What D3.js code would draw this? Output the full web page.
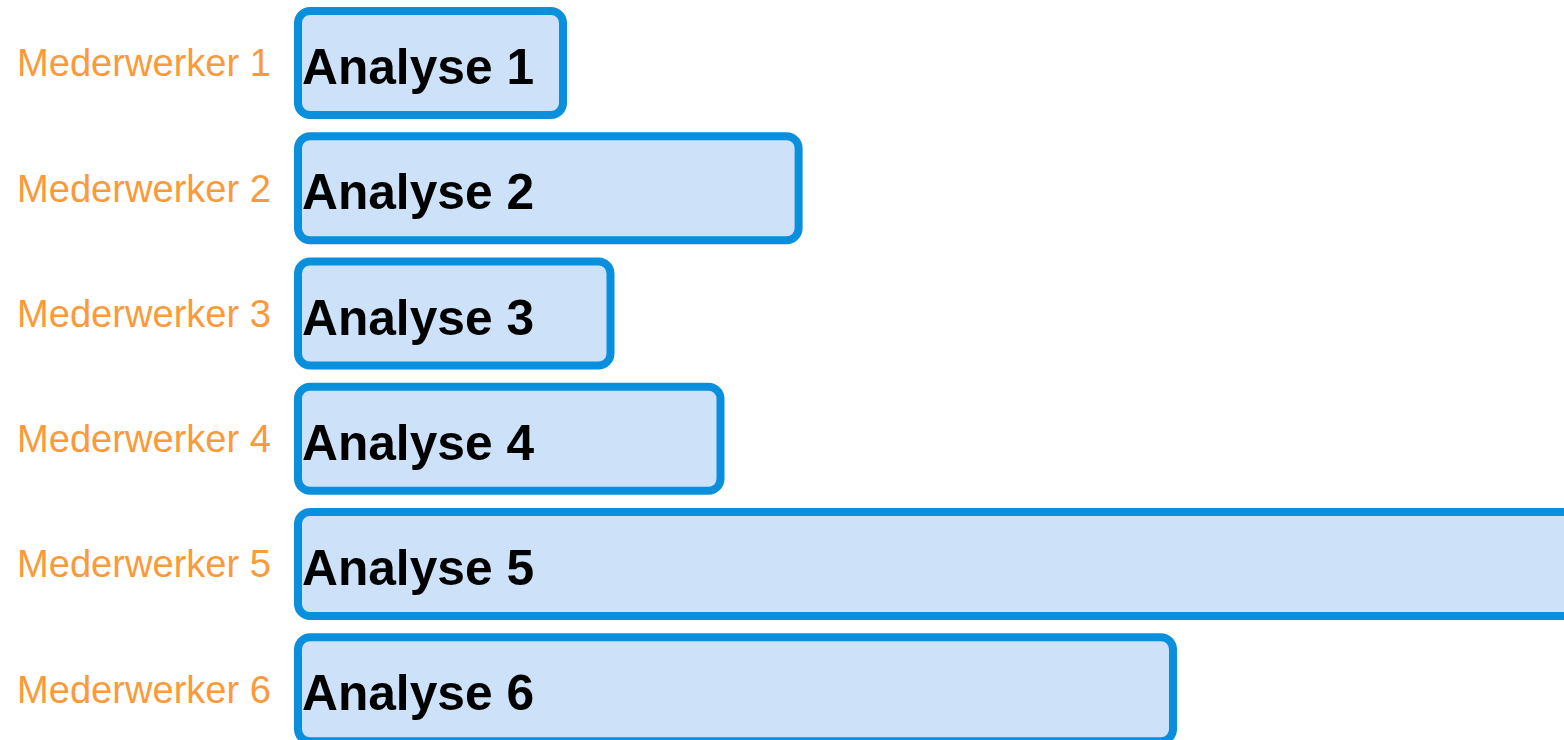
<!DOCTYPE html>
<html>
<head>
<meta charset="utf-8">
<script src="https://cdn.jsdelivr.net/npm/d3@7"></script>
<style>
  html, body { margin: 0; padding: 0; background: #fff; overflow: hidden; }
  svg { display: block; }
</style>
</head>
<body>
<svg id="chart" width="1564" height="740"></svg>
<script>
// Data
const rowLabels = ["Mederwerker 1", "Mederwerker 2", "Mederwerker 3", "Mederwerker 4", "Mederwerker 5", "Mederwerker 6"];
const barLabels = ["Analyse 1", "Analyse 2", "Analyse 3", "Analyse 4", "Analyse 5", "Analyse 6"];
const startValues = [0, 0, 0, 0, 0, 0];
const endValues = [21.2, 40.05, 25, 33.8, 110, 70];

const W = 1564, H = 740;
const svg = d3.select("#chart");

const rows = rowLabels.map((r, i) => ({
  row: r, label: barLabels[i], start: startValues[i], end: endValues[i]
}));

const y = d3.scaleBand()
  .domain(rowLabels)
  .range([7, 745.25])
  .paddingInner(13.25 / 125.25)
  .paddingOuter(0);

const x = d3.scaleLinear().domain([0, 100]).range([298, 1548]);

const stroke = 8;

// Row labels (axis)
const yAxis = d3.axisLeft(y).tickSize(0).tickPadding(0);
const gAxis = svg.append("g").attr("transform", "translate(271,0)").call(yAxis);
gAxis.select(".domain").remove();
gAxis.selectAll("text")
  .attr("font-family", "'Liberation Sans', Arial, sans-serif")
  .attr("font-size", 38.1)
  .attr("fill", "#fb9a3a")
  .attr("dy", "0.35em");

// Bars
const g = svg.append("g");
g.selectAll("rect.bar")
  .data(rows)
  .join("rect")
  .attr("class", "bar")
  .attr("x", d => x(d.start))
  .attr("y", d => y(d.row) + stroke / 2)
  .attr("width", d => x(d.end) - x(d.start))
  .attr("height", y.bandwidth() - stroke)
  .attr("rx", 12)
  .attr("ry", 12)
  .attr("fill", "#cde1f9")
  .attr("stroke", "#0a8fdd")
  .attr("stroke-width", stroke);

g.selectAll("text.bl")
  .data(rows)
  .join("text")
  .attr("class", "bl")
  .attr("x", d => x(d.start) + 4)
  .attr("y", d => y(d.row) + y.bandwidth() / 2 + 21)
  .attr("font-family", "'Liberation Sans', Arial, sans-serif")
  .attr("font-weight", "bold")
  .attr("font-size", 49.7)
  .attr("fill", "#000")
  .text(d => d.label);
</script>
</body>
</html>
